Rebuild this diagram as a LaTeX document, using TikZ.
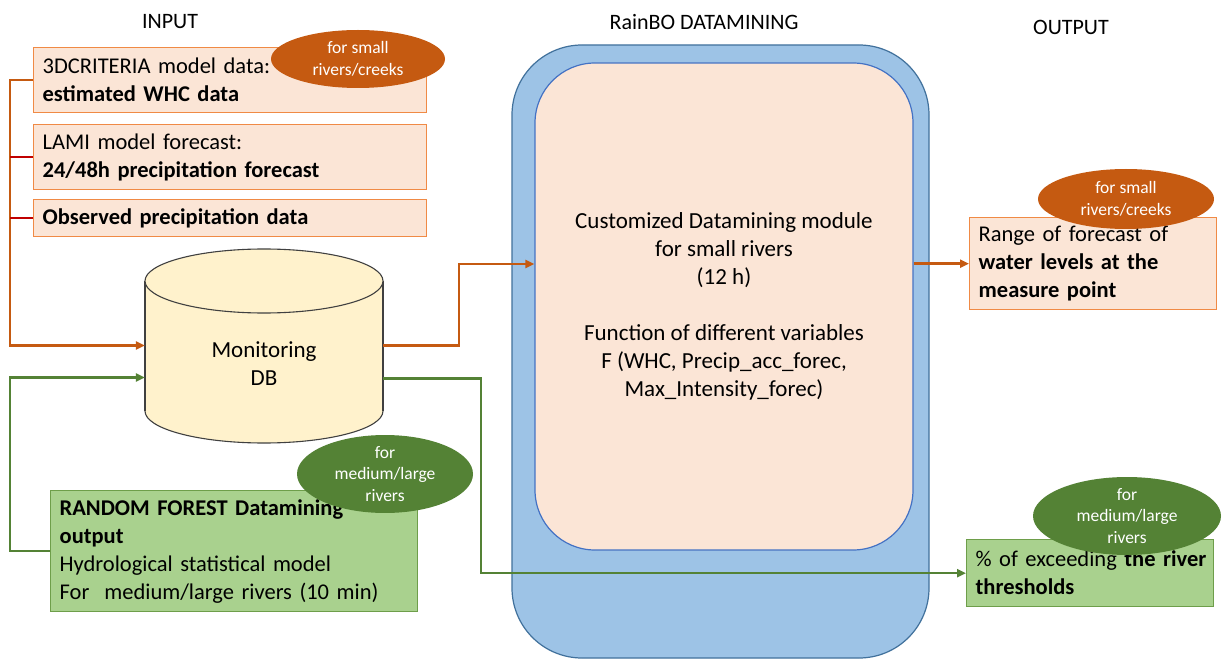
\documentclass[tikz,border=0pt]{standalone}
\usepackage{fontspec}
\setmainfont{Carlito}
\usetikzlibrary{arrows.meta,calc,shapes.geometric}
\definecolor{peach}{HTML}{FBE5D6}
\definecolor{boxorange}{HTML}{F08A45}
\definecolor{darkorange}{HTML}{C55A11}
\definecolor{redline}{HTML}{C00000}
\definecolor{darkgreen}{HTML}{548235}
\definecolor{lightgreen}{HTML}{A9D18E}
\definecolor{greenborder}{HTML}{6E9E4A}
\definecolor{bluefill}{HTML}{9DC3E6}
\definecolor{blueborder}{HTML}{41719C}
\definecolor{innerborder}{HTML}{4472C4}
\definecolor{cylfill}{HTML}{FFF2CC}
\definecolor{cylborder}{HTML}{404040}
\tikzset{
  bodyfont/.style={font=\fontsize{22.5}{28}\selectfont},
  inbox/.style={draw=boxorange, line width=1.3pt, fill=peach, anchor=north west, inner xsep=9pt, inner ysep=0pt, align=left, bodyfont},
  grbox/.style={draw=greenborder, line width=1.3pt, fill=lightgreen, anchor=north west, inner xsep=9pt, inner ysep=0pt, align=left, bodyfont},
  tagell/.style={ellipse, inner sep=0pt, text=white, align=center, font=\fontsize{17.5}{21.5}\selectfont},
  orl/.style={draw=darkorange, line width=2.5pt},
  grl/.style={draw=darkgreen, line width=2.5pt},
  redl/.style={draw=redline, line width=2.5pt},
  tip/.style={-{Triangle[length=9pt,width=8pt]}},
  title/.style={font=\fontsize{22}{26}\selectfont}
}
\begin{document}
\begin{tikzpicture}[x=1pt,y=-1pt]
\useasboundingbox (0,0) rectangle (1223,660);
\fill[white] (0,0) rectangle (1223,660);

% titles
\node[title] (tin) at (170,22) {INPUT};
\node[title] (tmid) at (704,22) {RainBO DATAMINING};
\node[title] (tout) at (1071,27) {OUTPUT};

% central module
\node[draw=blueborder, line width=1.2pt, fill=bluefill, rounded corners=70pt, minimum width=417pt, minimum height=613pt, inner sep=0pt] (outer) at (720.5,351.5) {};
\node[draw=innerborder, line width=1.2pt, fill=peach, rounded corners=60pt, minimum width=378pt, minimum height=487pt, inner sep=0pt, align=center, font=\fontsize{23}{28}\selectfont] (inner) at (724,306.5)
  {Customized Datamining module\\for small rivers\\(12 h)\\[28pt]Function of different variables\\F (WHC, Precip\_acc\_forec,\\Max\_Intensity\_forec)};

% input boxes
\node[inbox, text width=375pt, minimum height=65pt] (crit) at (33,47) {3DCRITERIA model data:\\\textbf{estimated WHC data}};
\node[inbox, text width=375pt, minimum height=65pt] (lami) at (33,124) {LAMI model forecast:\\\textbf{24/48h precipitation forecast}};
\node[inbox, text width=375pt, minimum height=37pt] (obs) at (33,199) {\textbf{Observed precipitation data}};
\node[tagell, fill=darkorange, minimum width=174pt, minimum height=58pt] (tag1) at (358,59) {for small\\rivers/creeks};

% random forest box
\node[grbox, text width=349pt, minimum height=121pt] (rf) at (50,490) {\mbox{\textbf{RANDOM FOREST Datamining}}\\\textbf{output}\\Hydrological statistical model\\\mbox{For~ medium/large rivers (10 min)}};
\node[tagell, fill=darkgreen, minimum width=176pt, minimum height=62pt] (tag2) at (385,474) {for\\medium/large\\rivers};

% output boxes
\node[inbox, text width=229pt, minimum height=92pt] (range) at (969,217) {Range of forecast of\\\textbf{water levels at the}\\\textbf{measure point}};
\node[tagell, fill=darkorange, minimum width=176pt, minimum height=60pt] (tag3) at (1126,199) {for small\\rivers/creeks};
\node[grbox, text width=229pt, minimum height=67pt] (thr) at (966,539) {\mbox{\% of exceeding \textbf{the river}}\\\textbf{thresholds}};
\node[tagell, fill=darkgreen, minimum width=188pt, minimum height=62pt] (tag4) at (1127,516) {for\\medium/large\\rivers};

% database cylinder
\node[minimum width=238pt, minimum height=195pt, inner sep=0pt] (db) at (264,345.5) {};
\filldraw[fill=cylfill, draw=cylborder, line width=1.1pt] (264,411) ellipse [x radius=119, y radius=32];
\fill[cylfill] (145,281) rectangle (383,411);
\draw[cylborder, line width=1.1pt] (145,281) -- (145,411) (383,281) -- (383,411);
\filldraw[fill=cylfill, draw=cylborder, line width=1.1pt] (264,281) ellipse [x radius=119, y radius=32];
\node[align=center, font=\fontsize{23}{28}\selectfont] (dbtxt) at (264,363.5) {Monitoring\\DB};

% connectors
\coordinate (bx) at (10,0);
\draw[orl, tip] (crit.west) -- (crit.west -| bx) |- (db.west);
\draw[redl] (lami.west) -- (lami.west -| bx);
\draw[redl] (obs.west) -- (obs.west -| bx);
\draw[grl, tip] (rf.west) -- (rf.west -| bx) |- ($(db.west)+(0,32)$);

\coordinate (ojog) at (459,264);
\draw[orl, tip] (db.east) -| (ojog) -- (ojog -| inner.west);
\coordinate (gjog) at (481,0);
\draw[grl, tip] ($(db.east)+(0,33)$) -| (gjog |- thr.west) -- (thr.west);
\draw[orl, tip] (inner.east |- range.west) -- (range.west);
\end{tikzpicture}
\end{document}
